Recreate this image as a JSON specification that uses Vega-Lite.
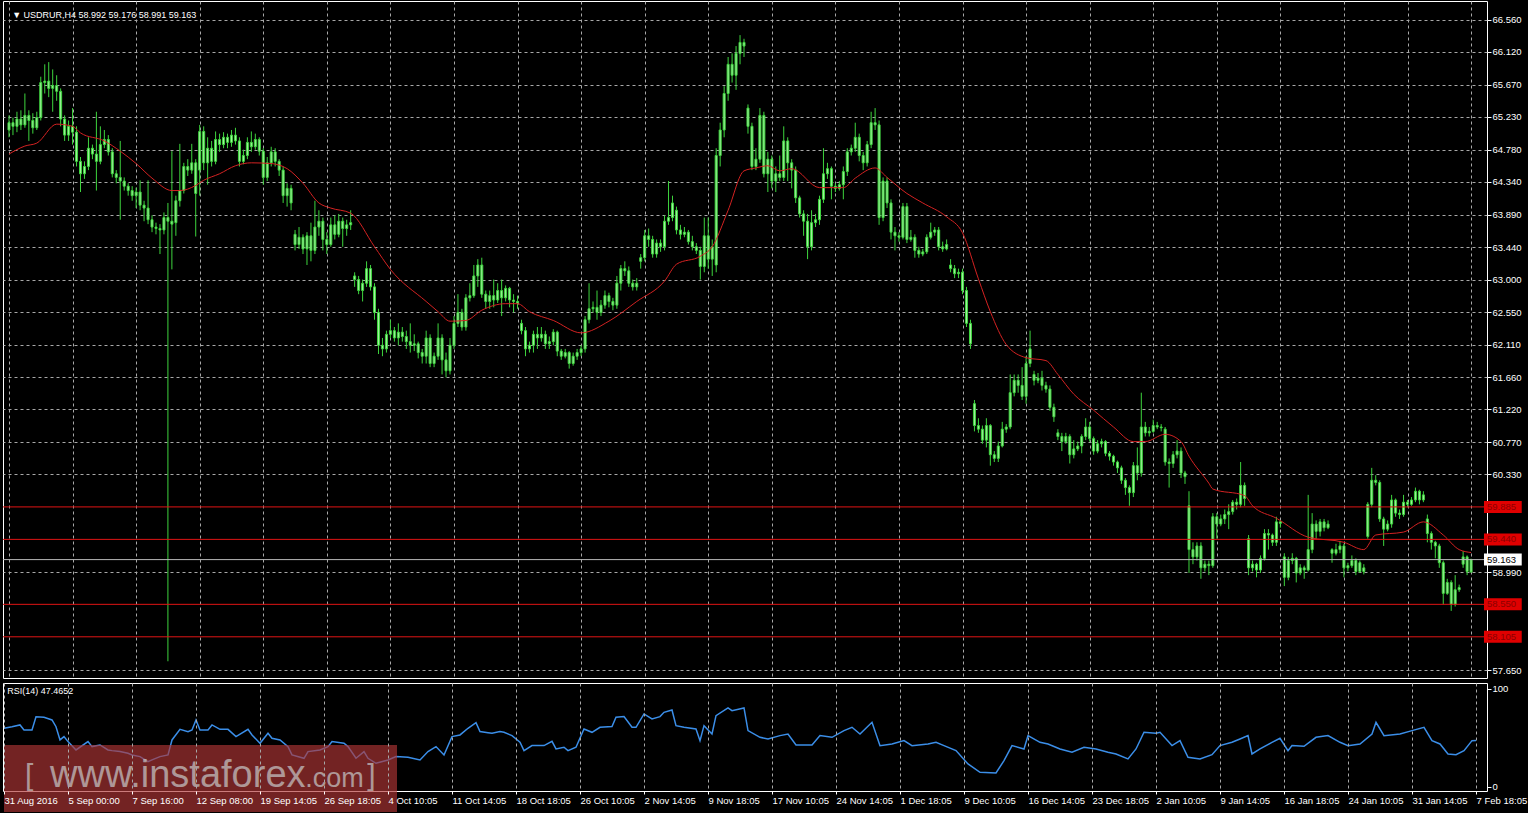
{
"$schema":"https://vega.github.io/schema/vega-lite/v6.json",
"background":"#000000",
"padding":{"left":0,"top":0,"right":0,"bottom":0},
"spacing":3,
"config":{
"view":{"stroke":"#ffffff","strokeWidth":1},
"axis":{"labelColor":"#ffffff","labelFont":"Liberation Sans","labelFontSize":9.5,"tickColor":"#ffffff","domain":false,"gridColor":"#a8a8a8","gridDash":[3,3],"gridWidth":1,"gridOpacity":1},
"text":{"font":"Liberation Sans"}
},
"datasets":{
"candles":[
{"i":0,"o":65.05,"h":65.25,"l":64.95,"c":65.15},{"i":1,"o":65.15,"h":65.22,"l":64.98,"c":65.10},{"i":2,"o":65.10,"h":65.30,"l":65.02,"c":65.20},{"i":3,"o":65.20,"h":65.32,"l":65.05,"c":65.12},{"i":4,"o":65.12,"h":65.55,"l":65.08,"c":65.25},{"i":5,"o":65.25,"h":65.32,"l":64.90,"c":65.18},{"i":6,"o":65.18,"h":65.28,"l":65.00,"c":65.08},{"i":7,"o":65.08,"h":65.30,"l":65.05,"c":65.22},{"i":8,"o":65.22,"h":65.78,"l":65.18,"c":65.70},{"i":9,"o":65.70,"h":65.95,"l":65.55,"c":65.72},
{"i":10,"o":65.72,"h":65.98,"l":65.50,"c":65.62},{"i":11,"o":65.62,"h":65.88,"l":65.30,"c":65.66},{"i":12,"o":65.66,"h":65.80,"l":65.45,"c":65.58},{"i":13,"o":65.58,"h":65.62,"l":65.10,"c":65.20},{"i":14,"o":65.20,"h":65.25,"l":64.90,"c":64.98},{"i":15,"o":64.98,"h":65.18,"l":64.90,"c":65.10},{"i":16,"o":65.10,"h":65.35,"l":64.85,"c":65.02},{"i":17,"o":65.02,"h":65.10,"l":64.55,"c":64.62},{"i":18,"o":64.62,"h":64.68,"l":64.20,"c":64.45},{"i":19,"o":64.45,"h":64.62,"l":64.38,"c":64.55},
{"i":20,"o":64.55,"h":64.95,"l":64.50,"c":64.80},{"i":21,"o":64.80,"h":64.85,"l":64.65,"c":64.72},{"i":22,"o":64.72,"h":65.30,"l":64.22,"c":64.62},{"i":23,"o":64.62,"h":65.10,"l":64.58,"c":64.85},{"i":24,"o":64.85,"h":65.05,"l":64.80,"c":64.92},{"i":25,"o":64.92,"h":64.98,"l":64.70,"c":64.75},{"i":26,"o":64.75,"h":64.80,"l":64.40,"c":64.45},{"i":27,"o":64.45,"h":64.50,"l":64.32,"c":64.40},{"i":28,"o":64.40,"h":64.90,"l":63.82,"c":64.35},{"i":29,"o":64.35,"h":64.40,"l":64.22,"c":64.28},
{"i":30,"o":64.28,"h":64.32,"l":64.15,"c":64.22},{"i":31,"o":64.22,"h":64.28,"l":64.08,"c":64.15},{"i":32,"o":64.15,"h":64.26,"l":63.98,"c":64.20},{"i":33,"o":64.20,"h":64.36,"l":63.95,"c":64.02},{"i":34,"o":64.02,"h":64.08,"l":63.80,"c":63.98},{"i":35,"o":63.98,"h":64.36,"l":63.76,"c":63.82},{"i":36,"o":63.82,"h":63.88,"l":63.65,"c":63.72},{"i":37,"o":63.72,"h":63.78,"l":63.62,"c":63.70},{"i":38,"o":63.70,"h":63.76,"l":63.35,"c":63.68},{"i":39,"o":63.68,"h":63.92,"l":63.62,"c":63.85},
{"i":40,"o":63.85,"h":64.05,"l":57.77,"c":63.80},{"i":41,"o":63.80,"h":64.76,"l":63.14,"c":63.76},{"i":42,"o":63.78,"h":64.15,"l":63.60,"c":64.08},{"i":43,"o":64.08,"h":64.86,"l":64.00,"c":64.22},{"i":44,"o":64.22,"h":64.60,"l":64.18,"c":64.55},{"i":45,"o":64.55,"h":64.65,"l":64.42,"c":64.50},{"i":46,"o":64.50,"h":64.86,"l":64.45,"c":64.60},{"i":47,"o":64.60,"h":64.65,"l":63.59,"c":64.18},{"i":48,"o":64.50,"h":65.12,"l":64.15,"c":65.03},{"i":49,"o":65.03,"h":65.10,"l":64.50,"c":64.60},
{"i":50,"o":64.60,"h":64.95,"l":64.30,"c":64.80},{"i":51,"o":64.80,"h":64.90,"l":64.55,"c":64.62},{"i":52,"o":64.62,"h":65.03,"l":64.58,"c":64.92},{"i":53,"o":64.92,"h":65.00,"l":64.75,"c":64.85},{"i":54,"o":64.85,"h":65.02,"l":64.80,"c":64.95},{"i":55,"o":64.95,"h":65.00,"l":64.80,"c":64.88},{"i":56,"o":64.88,"h":65.05,"l":64.82,"c":64.98},{"i":57,"o":64.98,"h":65.08,"l":64.85,"c":64.90},{"i":58,"o":64.90,"h":64.95,"l":64.55,"c":64.62},{"i":59,"o":64.62,"h":64.78,"l":64.58,"c":64.70},
{"i":60,"o":64.70,"h":64.95,"l":64.65,"c":64.88},{"i":61,"o":64.88,"h":65.03,"l":64.75,"c":64.82},{"i":62,"o":64.82,"h":65.00,"l":64.78,"c":64.92},{"i":63,"o":64.92,"h":64.95,"l":64.70,"c":64.76},{"i":64,"o":64.76,"h":64.80,"l":64.30,"c":64.40},{"i":65,"o":64.40,"h":64.68,"l":64.35,"c":64.60},{"i":66,"o":64.60,"h":64.82,"l":64.55,"c":64.75},{"i":67,"o":64.75,"h":64.80,"l":64.55,"c":64.62},{"i":68,"o":64.62,"h":64.65,"l":64.42,"c":64.50},{"i":69,"o":64.50,"h":64.55,"l":64.05,"c":64.15},
{"i":70,"o":64.15,"h":64.32,"l":64.00,"c":64.25},{"i":71,"o":64.25,"h":64.30,"l":63.95,"c":64.05},{"i":72,"o":63.62,"h":63.68,"l":63.40,"c":63.48},{"i":73,"o":63.48,"h":63.72,"l":63.42,"c":63.58},{"i":74,"o":63.58,"h":63.62,"l":63.35,"c":63.42},{"i":75,"o":63.42,"h":63.65,"l":63.20,"c":63.60},{"i":76,"o":63.60,"h":63.78,"l":63.25,"c":63.40},{"i":77,"o":63.40,"h":64.08,"l":63.35,"c":63.72},{"i":78,"o":63.72,"h":63.95,"l":63.60,"c":63.80},{"i":79,"o":63.80,"h":63.85,"l":63.40,"c":63.55},
{"i":80,"o":63.55,"h":63.65,"l":63.35,"c":63.48},{"i":81,"o":63.48,"h":63.85,"l":63.45,"c":63.75},{"i":82,"o":63.75,"h":63.88,"l":63.55,"c":63.62},{"i":83,"o":63.62,"h":63.90,"l":63.58,"c":63.80},{"i":84,"o":63.80,"h":63.85,"l":63.45,"c":63.70},{"i":85,"o":63.70,"h":63.82,"l":63.60,"c":63.75},{"i":86,"o":63.75,"h":63.95,"l":63.68,"c":63.78},{"i":87,"o":63.05,"h":63.10,"l":62.90,"c":63.00},{"i":88,"o":63.00,"h":63.05,"l":62.80,"c":62.85},{"i":89,"o":62.85,"h":63.00,"l":62.70,"c":62.95},
{"i":90,"o":62.95,"h":63.25,"l":62.90,"c":63.15},{"i":91,"o":63.15,"h":63.20,"l":62.85,"c":62.90},{"i":92,"o":62.90,"h":62.95,"l":62.45,"c":62.55},{"i":93,"o":62.55,"h":62.60,"l":61.98,"c":62.10},{"i":94,"o":62.10,"h":62.20,"l":61.95,"c":62.05},{"i":95,"o":62.05,"h":62.30,"l":62.00,"c":62.25},{"i":96,"o":62.25,"h":62.45,"l":62.20,"c":62.30},{"i":97,"o":62.30,"h":62.35,"l":62.15,"c":62.20},{"i":98,"o":62.20,"h":62.40,"l":62.10,"c":62.28},{"i":99,"o":62.28,"h":62.35,"l":62.15,"c":62.22},
{"i":100,"o":62.22,"h":62.30,"l":62.05,"c":62.15},{"i":101,"o":62.15,"h":62.40,"l":62.00,"c":62.10},{"i":102,"o":62.10,"h":62.25,"l":62.02,"c":62.12},{"i":103,"o":62.12,"h":62.15,"l":61.92,"c":62.00},{"i":104,"o":62.00,"h":62.05,"l":61.85,"c":61.95},{"i":105,"o":61.95,"h":62.30,"l":61.85,"c":62.20},{"i":106,"o":62.20,"h":62.25,"l":61.80,"c":61.85},{"i":107,"o":61.85,"h":62.00,"l":61.80,"c":61.95},{"i":108,"o":61.95,"h":62.40,"l":61.90,"c":62.20},{"i":109,"o":62.20,"h":62.25,"l":61.70,"c":61.90},
{"i":110,"o":61.90,"h":62.00,"l":61.66,"c":61.75},{"i":111,"o":61.75,"h":62.20,"l":61.70,"c":62.10},{"i":112,"o":62.10,"h":62.50,"l":62.05,"c":62.40},{"i":113,"o":62.40,"h":62.80,"l":62.35,"c":62.55},{"i":114,"o":62.55,"h":62.60,"l":62.30,"c":62.35},{"i":115,"o":62.35,"h":62.80,"l":62.30,"c":62.75},{"i":116,"o":62.75,"h":62.95,"l":62.70,"c":62.78},{"i":117,"o":62.78,"h":63.20,"l":62.75,"c":63.05},{"i":118,"o":63.05,"h":63.28,"l":62.90,"c":63.20},{"i":119,"o":63.20,"h":63.30,"l":62.75,"c":62.80},
{"i":120,"o":62.80,"h":62.85,"l":62.60,"c":62.70},{"i":121,"o":62.70,"h":62.85,"l":62.60,"c":62.78},{"i":122,"o":62.78,"h":63.00,"l":62.62,"c":62.72},{"i":123,"o":62.72,"h":62.95,"l":62.68,"c":62.85},{"i":124,"o":62.85,"h":63.00,"l":62.50,"c":62.75},{"i":125,"o":62.75,"h":62.92,"l":62.70,"c":62.88},{"i":126,"o":62.88,"h":62.90,"l":62.62,"c":62.72},{"i":127,"o":62.72,"h":62.80,"l":62.55,"c":62.70},{"i":128,"o":62.70,"h":62.78,"l":62.60,"c":62.68},{"i":129,"o":62.40,"h":62.45,"l":62.25,"c":62.30},
{"i":130,"o":62.30,"h":62.35,"l":61.95,"c":62.05},{"i":131,"o":62.05,"h":62.15,"l":62.00,"c":62.10},{"i":132,"o":62.10,"h":62.30,"l":62.00,"c":62.25},{"i":133,"o":62.25,"h":62.35,"l":62.05,"c":62.20},{"i":134,"o":62.20,"h":62.35,"l":62.15,"c":62.25},{"i":135,"o":62.25,"h":62.30,"l":62.05,"c":62.12},{"i":136,"o":62.12,"h":62.22,"l":62.05,"c":62.15},{"i":137,"o":62.15,"h":62.32,"l":62.10,"c":62.28},{"i":138,"o":62.28,"h":62.30,"l":61.95,"c":62.02},{"i":139,"o":62.02,"h":62.05,"l":61.90,"c":61.95},
{"i":140,"o":61.95,"h":62.05,"l":61.92,"c":62.00},{"i":141,"o":62.00,"h":62.02,"l":61.78,"c":61.85},{"i":142,"o":61.85,"h":62.00,"l":61.82,"c":61.95},{"i":143,"o":61.95,"h":62.05,"l":61.90,"c":62.00},{"i":144,"o":62.00,"h":62.10,"l":61.95,"c":62.05},{"i":145,"o":62.05,"h":62.50,"l":62.00,"c":62.45},{"i":146,"o":62.45,"h":62.95,"l":62.40,"c":62.60},{"i":147,"o":62.60,"h":62.70,"l":62.55,"c":62.62},{"i":148,"o":62.62,"h":62.85,"l":62.45,"c":62.55},{"i":149,"o":62.55,"h":62.72,"l":62.50,"c":62.65},
{"i":150,"o":62.65,"h":62.85,"l":62.60,"c":62.78},{"i":151,"o":62.78,"h":62.82,"l":62.62,"c":62.70},{"i":152,"o":62.70,"h":62.75,"l":62.58,"c":62.65},{"i":153,"o":62.65,"h":63.05,"l":62.60,"c":62.95},{"i":154,"o":62.95,"h":63.20,"l":62.85,"c":63.15},{"i":155,"o":63.15,"h":63.25,"l":63.05,"c":63.12},{"i":156,"o":63.12,"h":63.18,"l":62.90,"c":62.95},{"i":157,"o":62.95,"h":63.00,"l":62.85,"c":62.90},{"i":158,"o":62.90,"h":63.02,"l":62.85,"c":62.95},{"i":159,"o":63.25,"h":63.35,"l":63.15,"c":63.30},
{"i":160,"o":63.30,"h":63.68,"l":63.25,"c":63.60},{"i":161,"o":63.60,"h":63.70,"l":63.45,"c":63.55},{"i":162,"o":63.55,"h":63.60,"l":63.30,"c":63.35},{"i":163,"o":63.35,"h":63.55,"l":63.30,"c":63.50},{"i":164,"o":63.50,"h":63.55,"l":63.38,"c":63.45},{"i":165,"o":63.45,"h":63.88,"l":63.40,"c":63.80},{"i":166,"o":63.80,"h":64.35,"l":63.75,"c":63.85},{"i":167,"o":63.85,"h":64.15,"l":63.80,"c":64.05},{"i":168,"o":63.95,"h":64.00,"l":63.62,"c":63.68},{"i":169,"o":63.68,"h":63.75,"l":63.55,"c":63.62},
{"i":170,"o":63.62,"h":63.72,"l":63.58,"c":63.65},{"i":171,"o":63.65,"h":63.68,"l":63.48,"c":63.52},{"i":172,"o":63.52,"h":63.60,"l":63.40,"c":63.45},{"i":173,"o":63.45,"h":63.50,"l":63.35,"c":63.40},{"i":174,"o":63.40,"h":63.45,"l":63.00,"c":63.18},{"i":175,"o":63.18,"h":63.85,"l":63.10,"c":63.60},{"i":176,"o":63.60,"h":63.85,"l":63.15,"c":63.28},{"i":177,"o":63.28,"h":63.55,"l":63.05,"c":63.45},{"i":178,"o":63.20,"h":64.80,"l":63.10,"c":64.70},{"i":179,"o":64.70,"h":65.15,"l":64.55,"c":65.05},
{"i":180,"o":65.05,"h":65.65,"l":64.95,"c":65.55},{"i":181,"o":65.55,"h":66.05,"l":65.45,"c":65.95},{"i":182,"o":65.95,"h":66.10,"l":65.70,"c":65.80},{"i":183,"o":65.80,"h":66.20,"l":65.60,"c":66.10},{"i":184,"o":66.10,"h":66.35,"l":65.95,"c":66.25},{"i":185,"o":66.25,"h":66.30,"l":66.05,"c":66.20},{"i":186,"o":65.35,"h":65.40,"l":65.00,"c":65.10},{"i":187,"o":65.10,"h":65.15,"l":64.50,"c":64.55},{"i":188,"o":64.55,"h":64.80,"l":64.50,"c":64.65},{"i":189,"o":64.65,"h":65.35,"l":64.60,"c":65.25},
{"i":190,"o":65.25,"h":65.30,"l":64.40,"c":64.45},{"i":191,"o":64.45,"h":64.75,"l":64.20,"c":64.65},{"i":192,"o":64.65,"h":64.70,"l":64.25,"c":64.35},{"i":193,"o":64.35,"h":64.55,"l":64.20,"c":64.45},{"i":194,"o":64.45,"h":64.70,"l":64.35,"c":64.40},{"i":195,"o":64.40,"h":65.10,"l":64.35,"c":64.90},{"i":196,"o":64.90,"h":64.95,"l":64.35,"c":64.60},{"i":197,"o":64.60,"h":64.65,"l":64.25,"c":64.50},{"i":198,"o":64.50,"h":64.55,"l":64.05,"c":64.12},{"i":199,"o":64.12,"h":64.15,"l":63.85,"c":63.90},
{"i":200,"o":63.90,"h":63.95,"l":63.60,"c":63.80},{"i":201,"o":63.80,"h":63.90,"l":63.28,"c":63.45},{"i":202,"o":63.45,"h":63.95,"l":63.40,"c":63.78},{"i":203,"o":63.78,"h":63.90,"l":63.72,"c":63.82},{"i":204,"o":63.82,"h":64.15,"l":63.75,"c":64.10},{"i":205,"o":64.10,"h":64.80,"l":64.05,"c":64.45},{"i":206,"o":64.45,"h":64.60,"l":64.38,"c":64.52},{"i":207,"o":64.52,"h":64.55,"l":64.10,"c":64.28},{"i":208,"o":64.28,"h":64.32,"l":64.20,"c":64.25},{"i":209,"o":64.25,"h":64.35,"l":64.22,"c":64.30},
{"i":210,"o":64.30,"h":64.55,"l":64.10,"c":64.48},{"i":211,"o":64.48,"h":64.80,"l":64.42,"c":64.75},{"i":212,"o":64.75,"h":64.85,"l":64.70,"c":64.80},{"i":213,"o":64.80,"h":65.15,"l":64.75,"c":64.95},{"i":214,"o":64.95,"h":65.00,"l":64.62,"c":64.70},{"i":215,"o":64.70,"h":64.75,"l":64.50,"c":64.60},{"i":216,"o":64.60,"h":64.90,"l":64.55,"c":64.85},{"i":217,"o":64.85,"h":65.30,"l":64.80,"c":65.15},{"i":218,"o":65.15,"h":65.35,"l":65.05,"c":65.12},{"i":219,"o":65.12,"h":65.18,"l":63.75,"c":63.85},
{"i":220,"o":63.85,"h":64.40,"l":63.80,"c":64.35},{"i":221,"o":64.35,"h":64.40,"l":63.98,"c":64.05},{"i":222,"o":64.05,"h":64.10,"l":63.55,"c":63.65},{"i":223,"o":63.65,"h":63.72,"l":63.40,"c":63.60},{"i":224,"o":63.60,"h":63.65,"l":63.52,"c":63.58},{"i":225,"o":63.58,"h":64.05,"l":63.55,"c":64.00},{"i":226,"o":64.00,"h":64.05,"l":63.50,"c":63.55},{"i":227,"o":63.55,"h":63.68,"l":63.52,"c":63.58},{"i":228,"o":63.58,"h":63.62,"l":63.30,"c":63.40},{"i":229,"o":63.40,"h":63.45,"l":63.30,"c":63.35},
{"i":230,"o":63.35,"h":63.42,"l":63.32,"c":63.38},{"i":231,"o":63.38,"h":63.62,"l":63.35,"c":63.58},{"i":232,"o":63.58,"h":63.78,"l":63.55,"c":63.65},{"i":233,"o":63.65,"h":63.72,"l":63.60,"c":63.68},{"i":234,"o":63.68,"h":63.72,"l":63.40,"c":63.45},{"i":235,"o":63.45,"h":63.52,"l":63.38,"c":63.42},{"i":236,"o":63.42,"h":63.55,"l":63.40,"c":63.48},{"i":237,"o":63.20,"h":63.28,"l":63.10,"c":63.15},{"i":238,"o":63.15,"h":63.20,"l":63.02,"c":63.08},{"i":239,"o":63.08,"h":63.15,"l":63.02,"c":63.10},
{"i":240,"o":63.10,"h":63.15,"l":62.80,"c":62.85},{"i":241,"o":62.85,"h":62.90,"l":62.35,"c":62.40},{"i":242,"o":62.40,"h":62.45,"l":62.05,"c":62.12},{"i":243,"o":61.30,"h":61.35,"l":60.92,"c":61.00},{"i":244,"o":61.00,"h":61.10,"l":60.90,"c":60.95},{"i":245,"o":60.95,"h":61.00,"l":60.75,"c":60.80},{"i":246,"o":60.80,"h":61.10,"l":60.70,"c":61.00},{"i":247,"o":61.00,"h":61.02,"l":60.45,"c":60.60},{"i":248,"o":60.60,"h":60.65,"l":60.50,"c":60.55},{"i":249,"o":60.55,"h":60.78,"l":60.50,"c":60.72},
{"i":250,"o":60.72,"h":61.05,"l":60.70,"c":60.95},{"i":251,"o":60.95,"h":61.02,"l":60.90,"c":60.98},{"i":252,"o":60.98,"h":61.70,"l":60.95,"c":61.45},{"i":253,"o":61.45,"h":61.70,"l":61.40,"c":61.62},{"i":254,"o":61.62,"h":61.70,"l":61.45,"c":61.55},{"i":255,"o":61.55,"h":61.80,"l":61.35,"c":61.40},{"i":256,"o":61.40,"h":61.95,"l":61.30,"c":61.85},{"i":257,"o":61.85,"h":62.30,"l":61.80,"c":62.05},{"i":258,"o":61.70,"h":61.75,"l":61.55,"c":61.62},{"i":259,"o":61.62,"h":61.72,"l":61.58,"c":61.65},
{"i":260,"o":61.65,"h":61.75,"l":61.48,"c":61.55},{"i":261,"o":61.55,"h":61.60,"l":61.45,"c":61.50},{"i":262,"o":61.50,"h":61.55,"l":61.20,"c":61.25},{"i":263,"o":61.25,"h":61.30,"l":61.05,"c":61.12},{"i":264,"o":60.90,"h":60.95,"l":60.80,"c":60.85},{"i":265,"o":60.85,"h":60.90,"l":60.65,"c":60.78},{"i":266,"o":60.78,"h":60.90,"l":60.75,"c":60.85},{"i":267,"o":60.85,"h":60.88,"l":60.48,"c":60.60},{"i":268,"o":60.60,"h":60.80,"l":60.55,"c":60.68},{"i":269,"o":60.68,"h":60.78,"l":60.65,"c":60.72},
{"i":270,"o":60.72,"h":60.88,"l":60.62,"c":60.85},{"i":271,"o":60.85,"h":61.10,"l":60.80,"c":60.98},{"i":272,"o":60.98,"h":61.05,"l":60.78,"c":60.82},{"i":273,"o":60.82,"h":60.85,"l":60.60,"c":60.65},{"i":274,"o":60.65,"h":60.80,"l":60.62,"c":60.75},{"i":275,"o":60.75,"h":60.82,"l":60.70,"c":60.78},{"i":276,"o":60.78,"h":60.80,"l":60.58,"c":60.62},{"i":277,"o":60.62,"h":60.65,"l":60.52,"c":60.58},{"i":278,"o":60.58,"h":60.60,"l":60.45,"c":60.50},{"i":279,"o":60.50,"h":60.52,"l":60.35,"c":60.42},
{"i":280,"o":60.42,"h":60.45,"l":60.20,"c":60.25},{"i":281,"o":60.25,"h":60.28,"l":60.05,"c":60.15},{"i":282,"o":60.15,"h":60.18,"l":59.90,"c":60.08},{"i":283,"o":60.08,"h":60.50,"l":60.02,"c":60.45},{"i":284,"o":60.45,"h":60.70,"l":60.25,"c":60.35},{"i":285,"o":60.35,"h":61.45,"l":60.30,"c":60.98},{"i":286,"o":60.98,"h":61.05,"l":60.85,"c":60.90},{"i":287,"o":60.90,"h":60.98,"l":60.85,"c":60.92},{"i":288,"o":60.92,"h":61.08,"l":60.90,"c":61.00},{"i":289,"o":61.00,"h":61.05,"l":60.95,"c":60.98},
{"i":290,"o":60.98,"h":61.02,"l":60.92,"c":60.97},{"i":291,"o":60.95,"h":60.98,"l":60.45,"c":60.50},{"i":292,"o":60.50,"h":60.55,"l":60.15,"c":60.48},{"i":293,"o":60.48,"h":60.65,"l":60.42,"c":60.60},{"i":294,"o":60.60,"h":60.80,"l":60.55,"c":60.65},{"i":295,"o":60.65,"h":60.70,"l":60.28,"c":60.35},{"i":296,"o":60.35,"h":60.38,"l":60.20,"c":60.30},{"i":297,"o":59.90,"h":60.10,"l":58.98,"c":59.30},{"i":298,"o":59.30,"h":59.40,"l":59.10,"c":59.20},{"i":299,"o":59.20,"h":59.40,"l":59.15,"c":59.35},
{"i":300,"o":59.35,"h":59.40,"l":58.90,"c":59.05},{"i":301,"o":59.05,"h":59.15,"l":59.00,"c":59.10},{"i":302,"o":59.10,"h":59.15,"l":58.95,"c":59.08},{"i":303,"o":59.08,"h":59.80,"l":59.05,"c":59.75},{"i":304,"o":59.75,"h":59.80,"l":59.45,"c":59.65},{"i":305,"o":59.65,"h":59.78,"l":59.62,"c":59.72},{"i":306,"o":59.72,"h":59.85,"l":59.65,"c":59.78},{"i":307,"o":59.78,"h":59.92,"l":59.58,"c":59.82},{"i":308,"o":59.82,"h":59.98,"l":59.78,"c":59.95},{"i":309,"o":59.95,"h":60.00,"l":59.85,"c":59.92},
{"i":310,"o":59.92,"h":60.50,"l":59.88,"c":60.18},{"i":311,"o":60.18,"h":60.22,"l":59.90,"c":60.00},{"i":312,"o":59.45,"h":59.50,"l":58.95,"c":59.05},{"i":313,"o":59.05,"h":59.15,"l":59.00,"c":59.10},{"i":314,"o":59.10,"h":59.12,"l":58.92,"c":59.02},{"i":315,"o":59.02,"h":59.22,"l":58.98,"c":59.18},{"i":316,"o":59.18,"h":59.58,"l":59.15,"c":59.52},{"i":317,"o":59.52,"h":59.58,"l":59.30,"c":59.50},{"i":318,"o":59.50,"h":59.52,"l":59.35,"c":59.40},{"i":319,"o":59.40,"h":59.75,"l":59.35,"c":59.68},
{"i":320,"o":59.68,"h":59.70,"l":59.60,"c":59.66},{"i":321,"o":59.20,"h":59.25,"l":58.80,"c":58.92},{"i":322,"o":58.92,"h":59.20,"l":58.88,"c":59.15},{"i":323,"o":59.15,"h":59.25,"l":59.10,"c":59.18},{"i":324,"o":59.18,"h":59.20,"l":58.85,"c":58.98},{"i":325,"o":58.98,"h":59.10,"l":58.95,"c":59.05},{"i":326,"o":59.05,"h":59.08,"l":58.90,"c":59.02},{"i":327,"o":59.02,"h":60.05,"l":59.00,"c":59.30},{"i":328,"o":59.30,"h":59.80,"l":59.25,"c":59.65},{"i":329,"o":59.65,"h":59.70,"l":59.45,"c":59.55},
{"i":330,"o":59.55,"h":59.72,"l":59.48,"c":59.68},{"i":331,"o":59.68,"h":59.72,"l":59.55,"c":59.60},{"i":332,"o":59.60,"h":59.70,"l":59.58,"c":59.65},{"i":333,"o":59.30,"h":59.32,"l":59.12,"c":59.25},{"i":334,"o":59.25,"h":59.38,"l":59.22,"c":59.30},{"i":335,"o":59.30,"h":59.42,"l":59.25,"c":59.35},{"i":336,"o":59.35,"h":59.38,"l":58.92,"c":59.05},{"i":337,"o":59.05,"h":59.12,"l":59.00,"c":59.08},{"i":338,"o":59.08,"h":59.22,"l":59.05,"c":59.15},{"i":339,"o":59.15,"h":59.18,"l":58.95,"c":59.00},
{"i":340,"o":59.00,"h":59.15,"l":58.98,"c":59.12},{"i":341,"o":59.05,"h":59.10,"l":58.96,"c":59.00},{"i":342,"o":59.48,"h":59.95,"l":59.45,"c":59.92},{"i":343,"o":59.92,"h":60.42,"l":59.88,"c":60.25},{"i":344,"o":60.25,"h":60.32,"l":60.18,"c":60.22},{"i":345,"o":60.22,"h":60.25,"l":59.68,"c":59.72},{"i":346,"o":59.72,"h":59.75,"l":59.35,"c":59.58},{"i":347,"o":59.58,"h":59.70,"l":59.55,"c":59.65},{"i":348,"o":59.65,"h":60.05,"l":59.60,"c":59.98},{"i":349,"o":59.98,"h":60.00,"l":59.75,"c":59.80},
{"i":350,"o":59.80,"h":59.85,"l":59.72,"c":59.78},{"i":351,"o":59.78,"h":60.05,"l":59.75,"c":59.95},{"i":352,"o":59.95,"h":59.98,"l":59.88,"c":59.92},{"i":353,"o":59.92,"h":60.02,"l":59.90,"c":59.98},{"i":354,"o":59.98,"h":60.15,"l":59.95,"c":60.10},{"i":355,"o":60.10,"h":60.12,"l":59.92,"c":59.98},{"i":356,"o":59.98,"h":60.10,"l":59.95,"c":60.05},{"i":357,"o":59.72,"h":59.78,"l":59.40,"c":59.52},{"i":358,"o":59.52,"h":59.55,"l":59.30,"c":59.40},{"i":359,"o":59.40,"h":59.42,"l":59.18,"c":59.35},
{"i":360,"o":59.35,"h":59.38,"l":59.05,"c":59.12},{"i":361,"o":59.12,"h":59.15,"l":58.55,"c":58.70},{"i":362,"o":58.70,"h":58.90,"l":58.68,"c":58.85},{"i":363,"o":58.85,"h":58.88,"l":58.46,"c":58.55},{"i":364,"o":58.55,"h":58.95,"l":58.52,"c":58.75},{"i":365,"o":58.75,"h":58.82,"l":58.72,"c":58.78},{"i":366,"o":59.10,"h":59.28,"l":59.05,"c":59.20},{"i":367,"o":59.20,"h":59.22,"l":58.95,"c":59.00},{"i":368,"o":58.992,"h":59.176,"l":58.991,"c":59.163}
],
"ma":[
{"i":0,"v":64.72},{"i":4,"v":64.83},{"i":7,"v":64.87},{"i":12,"v":65.13},{"i":16,"v":65.10},{"i":18,"v":65.01},{"i":24,"v":64.90},{"i":28,"v":64.76},{"i":32,"v":64.59},{"i":36,"v":64.39},{"i":41,"v":64.22},{"i":43,"v":64.22},{"i":47,"v":64.29},{"i":49,"v":64.36},{"i":53,"v":64.45},{"i":57,"v":64.56},{"i":61,"v":64.60},{"i":66,"v":64.59},{"i":70,"v":64.52},{"i":74,"v":64.32},{"i":78,"v":64.05},{"i":81,"v":63.98},{"i":86,"v":63.91},{"i":92,"v":63.45},{"i":96,"v":63.14},{"i":105,"v":62.70},{"i":108,"v":62.56},{"i":111,"v":62.43},{"i":115,"v":62.44},{"i":119,"v":62.58},{"i":125,"v":62.67},{"i":128,"v":62.67},{"i":131,"v":62.56},{"i":137,"v":62.44},{"i":144,"v":62.27},{"i":151,"v":62.43},{"i":158,"v":62.70},{"i":165,"v":62.98},{"i":168,"v":63.21},{"i":174,"v":63.32},{"i":177,"v":63.45},{"i":181,"v":63.95},{"i":185,"v":64.49},{"i":188,"v":64.53},{"i":191,"v":64.56},{"i":194,"v":64.49},{"i":197,"v":64.52},{"i":204,"v":64.26},{"i":210,"v":64.26},{"i":213,"v":64.39},{"i":218,"v":64.53},{"i":221,"v":64.40},{"i":226,"v":64.18},{"i":230,"v":64.05},{"i":236,"v":63.86},{"i":240,"v":63.64},{"i":244,"v":63.01},{"i":247,"v":62.56},{"i":251,"v":62.11},{"i":256,"v":61.93},{"i":261,"v":61.89},{"i":264,"v":61.70},{"i":268,"v":61.43},{"i":273,"v":61.21},{"i":278,"v":60.98},{"i":283,"v":60.78},{"i":286,"v":60.78},{"i":291,"v":60.88},{"i":295,"v":60.78},{"i":297,"v":60.58},{"i":302,"v":60.21},{"i":303,"v":60.13},{"i":311,"v":60.04},{"i":313,"v":59.90},{"i":319,"v":59.73},{"i":327,"v":59.47},{"i":336,"v":59.40},{"i":341,"v":59.30},{"i":344,"v":59.50},{"i":351,"v":59.54},{"i":356,"v":59.68},{"i":361,"v":59.50},{"i":365,"v":59.30},{"i":368,"v":59.26}
],
"rsi":[
{"i":0,"v":59.9},{"i":2,"v":61.5},{"i":4,"v":63.3},{"i":5,"v":58.2},{"i":7,"v":58.2},{"i":8,"v":71.7},{"i":10,"v":71.1},{"i":12,"v":68.4},{"i":13,"v":61.5},{"i":14,"v":48.0},{"i":15,"v":51.4},{"i":16,"v":46.3},{"i":18,"v":37.8},{"i":21,"v":46.3},{"i":22,"v":41.2},{"i":24,"v":42.9},{"i":26,"v":37.8},{"i":27,"v":37.1},{"i":29,"v":36.1},{"i":31,"v":34.4},{"i":32,"v":32.7},{"i":34,"v":31.0},{"i":36,"v":25.8},{"i":37,"v":27.6},{"i":39,"v":31.0},{"i":41,"v":32.7},{"i":42,"v":48.0},{"i":44,"v":58.8},{"i":46,"v":56.5},{"i":47,"v":58.2},{"i":48,"v":68.4},{"i":49,"v":58.2},{"i":51,"v":58.2},{"i":52,"v":63.3},{"i":54,"v":58.8},{"i":56,"v":58.8},{"i":58,"v":51.4},{"i":61,"v":58.8},{"i":62,"v":53.1},{"i":64,"v":44.6},{"i":66,"v":54.8},{"i":67,"v":49.7},{"i":69,"v":48.0},{"i":71,"v":41.2},{"i":72,"v":32.7},{"i":75,"v":29.3},{"i":76,"v":36.1},{"i":79,"v":37.8},{"i":81,"v":41.2},{"i":82,"v":46.3},{"i":85,"v":44.6},{"i":86,"v":41.2},{"i":88,"v":29.3},{"i":90,"v":36.1},{"i":91,"v":29.3},{"i":93,"v":24.2},{"i":96,"v":27.6},{"i":98,"v":31.0},{"i":101,"v":30.3},{"i":104,"v":27.6},{"i":106,"v":36.1},{"i":108,"v":41.2},{"i":110,"v":32.7},{"i":112,"v":51.4},{"i":114,"v":53.1},{"i":116,"v":59.9},{"i":118,"v":65.6},{"i":119,"v":56.5},{"i":121,"v":55.4},{"i":122,"v":54.8},{"i":124,"v":56.5},{"i":125,"v":55.8},{"i":127,"v":52.4},{"i":129,"v":45.6},{"i":130,"v":37.1},{"i":132,"v":42.2},{"i":135,"v":42.2},{"i":137,"v":46.6},{"i":138,"v":38.8},{"i":140,"v":40.5},{"i":141,"v":37.1},{"i":143,"v":40.5},{"i":145,"v":59.2},{"i":147,"v":55.8},{"i":149,"v":60.9},{"i":152,"v":61.6},{"i":153,"v":71.1},{"i":155,"v":71.8},{"i":157,"v":60.9},{"i":158,"v":60.9},{"i":160,"v":74.5},{"i":162,"v":69.4},{"i":164,"v":71.8},{"i":165,"v":76.2},{"i":167,"v":78.6},{"i":168,"v":62.6},{"i":170,"v":60.9},{"i":173,"v":59.2},{"i":174,"v":47.3},{"i":175,"v":62.6},{"i":177,"v":54.1},{"i":178,"v":72.8},{"i":181,"v":80.6},{"i":182,"v":77.9},{"i":185,"v":80.6},{"i":186,"v":57.5},{"i":189,"v":50.7},{"i":191,"v":49.0},{"i":194,"v":52.4},{"i":196,"v":54.1},{"i":198,"v":42.9},{"i":202,"v":42.9},{"i":204,"v":52.4},{"i":207,"v":50.7},{"i":210,"v":57.5},{"i":212,"v":60.9},{"i":214,"v":54.1},{"i":217,"v":66.0},{"i":219,"v":42.2},{"i":222,"v":43.9},{"i":225,"v":47.3},{"i":227,"v":42.2},{"i":231,"v":43.9},{"i":233,"v":45.6},{"i":235,"v":42.2},{"i":238,"v":37.1},{"i":241,"v":23.5},{"i":244,"v":15.0},{"i":248,"v":14.3},{"i":250,"v":26.9},{"i":252,"v":42.2},{"i":255,"v":38.8},{"i":256,"v":52.4},{"i":259,"v":45.6},{"i":261,"v":43.9},{"i":264,"v":38.8},{"i":267,"v":35.4},{"i":270,"v":40.5},{"i":273,"v":38.8},{"i":276,"v":35.4},{"i":278,"v":33.7},{"i":281,"v":28.6},{"i":283,"v":38.8},{"i":285,"v":55.8},{"i":288,"v":54.8},{"i":289,"v":55.8},{"i":292,"v":42.2},{"i":294,"v":47.3},{"i":296,"v":30.3},{"i":299,"v":28.6},{"i":302,"v":33.0},{"i":304,"v":42.2},{"i":307,"v":45.6},{"i":309,"v":49.0},{"i":311,"v":52.4},{"i":312,"v":33.7},{"i":314,"v":38.8},{"i":317,"v":45.6},{"i":319,"v":49.7},{"i":321,"v":37.1},{"i":322,"v":42.2},{"i":325,"v":41.5},{"i":328,"v":50.7},{"i":331,"v":52.4},{"i":334,"v":45.6},{"i":336,"v":42.2},{"i":339,"v":43.9},{"i":342,"v":54.1},{"i":343,"v":66.0},{"i":345,"v":52.4},{"i":349,"v":54.1},{"i":352,"v":57.5},{"i":355,"v":60.9},{"i":357,"v":47.3},{"i":359,"v":43.9},{"i":361,"v":33.7},{"i":363,"v":33.0},{"i":365,"v":37.1},{"i":367,"v":47.3},{"i":368,"v":47.47}
],
"levels":[{"v":59.885},{"v":59.44},{"v":58.55},{"v":58.105}],
"last":[{"v":59.163}]
},
"vconcat":[
{
"width":1484,"height":677,
"layer":[
{"data":{"name":"candles"},"mark":{"type":"rule","color":"#3dd43d","strokeWidth":1},
"encoding":{
"x":{"field":"i","type":"quantitative","scale":{"domain":[-0.25,370.75],"nice":false,"zero":false},"axis":{"title":null,"labels":false,"ticks":false,"grid":true,"values":[0,8,16,24,32,40,48,56,64,72,80,88,96,104,112,120,128,136,144,152,160,168,176,184,192,200,208,216,224,232,240,248,256,264,272,280,288,296,304,312,320,328,336,344,352,360,368]}},
"y":{"field":"l","type":"quantitative","scale":{"domain":[57.609,66.749],"nice":false,"zero":false},"axis":{"title":null,"orient":"right","format":".3f","values":[66.56,66.12,65.67,65.23,64.78,64.34,63.89,63.44,63.0,62.55,62.11,61.66,61.22,60.77,60.33,58.99,57.65],"tickSize":4,"labelPadding":1,"labelOverlap":false,"labelBaseline":"middle","grid":true}},
"y2":{"field":"h"}}},
{"data":{"name":"candles"},"mark":{"type":"bar","width":2,"fill":"#a4f0a0","stroke":"#3dd43d","strokeWidth":1},
"encoding":{"x":{"field":"i","type":"quantitative"},"y":{"field":"o","type":"quantitative"},"y2":{"field":"c"}}},
{"data":{"name":"ma"},"mark":{"type":"line","color":"#d42222","strokeWidth":1,"interpolate":"monotone"},
"encoding":{"x":{"field":"i","type":"quantitative"},"y":{"field":"v","type":"quantitative"}}},
{"data":{"name":"levels"},"mark":{"type":"rule","color":"#e01414","strokeWidth":1},
"encoding":{"y":{"field":"v","type":"quantitative"}}},
{"data":{"name":"last"},"mark":{"type":"rule","color":"#b8b8b8","strokeWidth":1},
"encoding":{"y":{"field":"v","type":"quantitative"}}},
{"data":{"name":"levels"},"mark":{"type":"bar","height":12,"color":"#e00000"},
"encoding":{"x":{"datum":371.25},"x2":{"datum":380.75},"y":{"field":"v","type":"quantitative"}}},
{"data":{"name":"levels"},"mark":{"type":"text","align":"left","baseline":"middle","color":"#8c0000","fontSize":9.5},
"encoding":{"x":{"datum":372.0},"y":{"field":"v","type":"quantitative"},"text":{"field":"v","type":"quantitative","format":".3f"}}},
{"data":{"name":"last"},"mark":{"type":"bar","height":12,"color":"#ffffff"},
"encoding":{"x":{"datum":371.25},"x2":{"datum":380.75},"y":{"field":"v","type":"quantitative"}}},
{"data":{"name":"last"},"mark":{"type":"text","align":"left","baseline":"middle","color":"#000000","fontSize":9.5},
"encoding":{"x":{"datum":372.0},"y":{"field":"v","type":"quantitative"},"text":{"field":"v","type":"quantitative","format":".3f"}}},
{"data":{"values":[{}]},"mark":{"type":"text","text":"▼ USDRUR,H4  58.992 59.176 58.991 59.163","align":"left","baseline":"middle","color":"#ffffff","fontSize":9},
"encoding":{"x":{"datum":0.8},"y":{"datum":66.63}}}
]
},
{
"width":1484,"height":108,
"layer":[
{"data":{"name":"rsi"},"mark":{"type":"line","color":"#3b8ee8","strokeWidth":1.5},
"encoding":{
"x":{"field":"i","type":"quantitative","scale":{"domain":[-0.25,370.75],"nice":false,"zero":false},"axis":{"title":null,"grid":true,"zindex":1,"values":[0,8,16,24,32,40,48,56,64,72,80,88,96,104,112,120,128,136,144,152,160,168,176,184,192,200,208,216,224,232,240,248,256,264,272,280,288,296,304,312,320,328,336,344,352,360,368],"labelExpr":"datum.value % 16 == 0 ? ['31 Aug 2016','5 Sep 00:00','7 Sep 16:00','12 Sep 08:00','19 Sep 14:05','26 Sep 18:05','4 Oct 10:05','11 Oct 14:05','18 Oct 18:05','26 Oct 10:05','2 Nov 14:05','9 Nov 18:05','17 Nov 10:05','24 Nov 14:05','1 Dec 18:05','9 Dec 10:05','16 Dec 14:05','23 Dec 18:05','2 Jan 10:05','9 Jan 14:05','16 Jan 18:05','24 Jan 10:05','31 Jan 14:05','7 Feb 18:05'][datum.value / 16] : ''","labelAlign":"left","labelBaseline":"top","labelPadding":1,"tickSize":3,"tickOpacity":{"condition":{"test":"datum.value % 16 == 0","value":1},"value":0},"labelOverlap":false,"labelFlush":false,"labelBound":false}},
"y":{"field":"v","type":"quantitative","scale":{"domain":[-4.1,106.1],"nice":false,"zero":false},"axis":{"title":null,"orient":"right","values":[0,30,70,100],"tickSize":4,"labelPadding":1,"labelOverlap":false,"gridDash":[2,2],"gridColor":"#c8c8c8","gridOpacity":{"condition":{"test":"datum.value == 30 || datum.value == 70","value":1},"value":0}}}}},
{"data":{"values":[{}]},"mark":{"type":"text","text":"RSI(14) 47.4652","align":"left","baseline":"middle","color":"#ffffff","fontSize":9},
"encoding":{"x":{"datum":0.8},"y":{"datum":98}}},
{"data":{"values":[{}]},"mark":{"type":"rect","color":"#b03535","opacity":0.65},
"encoding":{"x":{"datum":0},"x2":{"datum":98.25},"y":{"datum":42.8},"y2":{"datum":-25.5}}},
{"data":{"values":[{}]},"mark":{"type":"text","text":"[","align":"left","baseline":"alphabetic","color":"#c8c8c8","opacity":0.7,"fontSize":30},
"encoding":{"x":{"datum":5.25},"y":{"datum":2.0}}},
{"data":{"values":[{}]},"mark":{"type":"text","text":"www.instaforex","align":"left","baseline":"alphabetic","color":"#c8c8c8","opacity":0.7,"fontSize":38},
"encoding":{"x":{"datum":11.5},"y":{"datum":0}}},
{"data":{"values":[{}]},"mark":{"type":"text","text":".com","align":"left","baseline":"alphabetic","color":"#c8c8c8","opacity":0.7,"fontSize":27},
"encoding":{"x":{"datum":75.3},"y":{"datum":0}}},
{"data":{"values":[{}]},"mark":{"type":"text","text":"]","align":"left","baseline":"alphabetic","color":"#c8c8c8","opacity":0.7,"fontSize":30},
"encoding":{"x":{"datum":90.8},"y":{"datum":2.0}}}
]
}
]
}
